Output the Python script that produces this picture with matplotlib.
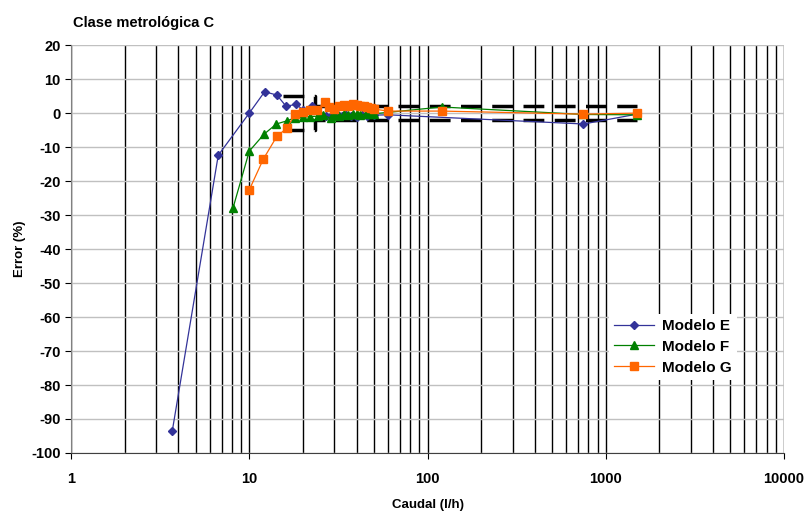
import matplotlib.pyplot as plt
import numpy as np

plt.rcParams['font.family'] = ['Liberation Sans', 'DejaVu Sans']
plt.rcParams['axes.unicode_minus'] = False

# Data
e_x = [3.7, 6.7, 10, 12.2, 14.3, 16.1, 18.3, 20, 22.5, 25, 27, 29, 31, 33, 35, 37, 40, 43, 46, 50, 60, 750, 1500]
e_y = [-93.5, -12.4, 0, 6.3, 5.3, 2.0, 2.6, 1.0, 2.0, -0.5, -0.8, -0.5, -0.3, -0.8, -0.5, -0.8, -1.0, -0.5, -0.8, -0.6, -0.5, -3.2, -0.3]

f_x = [8.1, 10, 12.1, 14.2, 16.2, 18, 20, 22, 24.4, 26, 28.6, 30, 32, 34, 36, 38, 40, 42, 45, 48, 50, 120, 750, 1500]
f_y = [-28, -11.2, -6.2, -3.2, -2.3, -1.4, -1.2, -1.0, -0.9, -0.6, -1.5, -0.6, -0.8, -0.4, -0.6, -0.2, -0.4, -0.5, -0.3, -0.4, -0.2, 1.8, -0.4, -0.5]

g_x = [10, 12, 14.3, 16.3, 18, 20, 22, 24, 26.5, 28, 30, 32, 34, 36, 38, 40, 42, 44, 46, 48, 50, 60, 120, 750, 1500]
g_y = [-22.6, -13.5, -6.8, -4.4, -0.3, 0.3, 0.8, 1.0, 3.2, 1.8, 1.2, 2.0, 2.4, 2.0, 2.6, 2.4, 2.2, 2.0, 1.8, 1.4, 1.2, 0.6, 0.6, -0.3, 0]

# Error limits (class C)
lim_x = [15.5, 23.3, 23.3, 1500]
lim_y = [5, 5, 2, 2]

fig = plt.figure(figsize=(8.06, 5.13), dpi=100)
ax = fig.add_axes([0.0881, 0.117, 0.8846, 0.795])

ax.set_xscale('log')
ax.set_xlim(1, 10000)
ax.set_ylim(-100, 20)

# grid
ax.grid(True, which='both', axis='x', color='black', linewidth=1)
ax.grid(True, which='major', axis='y', color='#c0c0c0', linewidth=1)
ax.set_axisbelow(True)

ax.plot(lim_x, lim_y, color='black', lw=2.5, ls=(0, (6, 3)), zorder=2)
ax.plot(lim_x, [-v for v in lim_y], color='black', lw=2.5, ls=(0, (6, 3)), zorder=2)

ax.plot(e_x, e_y, color='#333399', marker='D', markersize=4.5, lw=0.9, label='Modelo E', zorder=3)
ax.plot(f_x, f_y, color='#008000', marker='^', markersize=6, lw=0.9, label='Modelo F', zorder=4)
ax.plot(g_x, g_y, color='#FF6600', marker='s', markersize=5.5, lw=0.9, label='Modelo G', zorder=5)

ax.set_yticks(np.arange(-100, 21, 10))
ax.set_xticks([1, 10, 100, 1000, 10000])
ax.set_xticklabels(['1', '10', '100', '1000', '10000'])
ax.tick_params(axis='both', which='major', labelsize=10.5, length=4, direction='out')
ax.tick_params(axis='x', which='minor', length=0)
ax.tick_params(axis='x', pad=10)
for lbl in ax.get_xticklabels() + ax.get_yticklabels():
    lbl.set_fontweight('bold')

ax.spines['top'].set_visible(False)
ax.spines['right'].set_visible(False)
ax.spines['left'].set_color('#808080')
ax.spines['bottom'].set_color('#404040')

ax.set_xlabel('Caudal (l/h)', fontsize=9.5, fontweight='bold', labelpad=9)
ax.set_ylabel('Error (%)', fontsize=9.5, fontweight='bold', labelpad=4)

fig.text(0.091, 0.955, 'Clase metrológica C', fontsize=10.5, fontweight='bold', ha='left', va='center')

leg = ax.legend(loc='lower right', bbox_to_anchor=(0.934, 0.179), fontsize=11, frameon=True,
                fancybox=False, edgecolor='none', facecolor='white', framealpha=1,
                handlelength=2.6, handletextpad=0.5, borderpad=0.35, labelspacing=0.45,
                borderaxespad=0)
for t in leg.get_texts():
    t.set_fontweight('bold')

fig.savefig('out.png', dpi=100)
